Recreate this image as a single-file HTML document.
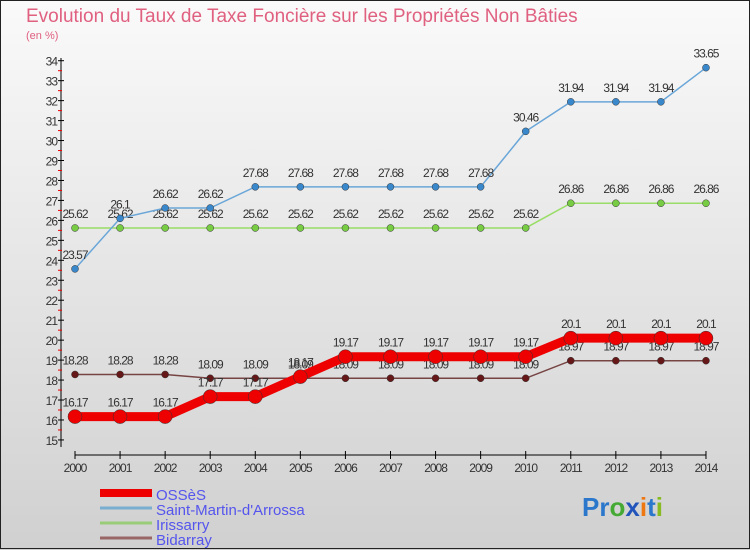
<!DOCTYPE html>
<html><head><meta charset="utf-8"><style>
body{margin:0}
#c{width:750px;height:550px;position:relative;overflow:hidden;background:linear-gradient(#fafafa,#d0d0d0);font-family:"Liberation Sans",sans-serif}
</style></head><body>
<div id="c">
<svg id="s" width="750" height="550" xmlns="http://www.w3.org/2000/svg">
<rect x="0.5" y="0.5" width="749" height="548" fill="none" stroke="#222" stroke-width="1"/>
<text x="26" y="22" font-size="19" fill="#e06080">Evolution du Taux de Taxe Foncière sur les Propriétés Non Bâties</text>
<text x="26" y="39" font-size="11" fill="#e06080">(en %)</text>
<g id="axes"></g><g id="series"></g>
<g>
<rect x="100" y="489" width="52" height="8" fill="#ee0000"/>
<text x="156" y="500" font-size="15" fill="#5555ee">OSSèS</text>
<line x1="100" y1="508" x2="152" y2="508" stroke="#7aaed0" stroke-width="3"/>
<text x="156" y="515" font-size="15" fill="#5555ee">Saint-Martin-d'Arrossa</text>
<line x1="100" y1="523" x2="152" y2="523" stroke="#99cc77" stroke-width="3"/>
<text x="156" y="530" font-size="15" fill="#5555ee">Irissarry</text>
<line x1="100" y1="538" x2="152" y2="538" stroke="#996666" stroke-width="3"/>
<text x="156" y="545" font-size="15" fill="#5555ee">Bidarray</text>
</g>
<text x="582" y="516" font-size="26" font-weight="bold"><tspan fill="#2a77cc">Pr</tspan><tspan fill="#44aa33">o</tspan><tspan fill="#2255bb">x</tspan><tspan fill="#ee7711">i</tspan><tspan fill="#2a77cc">t</tspan><tspan fill="#88bb22">i</tspan></text>
</svg></div>
<script>
const years=[2000,2001,2002,2003,2004,2005,2006,2007,2008,2009,2010,2011,2012,2013,2014];
const yTicks=[15,16,17,18,19,20,21,22,23,24,25,26,27,28,29,30,31,32,33,34];
const ossesVals=[16.17,16.17,16.17,17.17,17.17,18.17,19.17,19.17,19.17,19.17,19.17,20.1,20.1,20.1,20.1];
const stMartinVals=[23.57,26.1,26.62,26.62,27.68,27.68,27.68,27.68,27.68,27.68,30.46,31.94,31.94,31.94,33.65];
const irissarryVals=[25.62,25.62,25.62,25.62,25.62,25.62,25.62,25.62,25.62,25.62,25.62,26.86,26.86,26.86,26.86];
const bidarrayVals=[18.28,18.28,18.28,18.09,18.09,18.09,18.09,18.09,18.09,18.09,18.09,18.97,18.97,18.97,18.97];
const NS="http://www.w3.org/2000/svg";
const X=i=>75+i*45.07, Y=v=>60.7+(34-v)*19.96;
function mk(p,t,a){const e=document.createElementNS(NS,t);for(const k in a)e.setAttribute(k,a[k]);p.appendChild(e);return e;}
const ax=document.getElementById('axes');
const yl=mk(ax,'line',{x1:61,y1:58,x2:61,y2:447,stroke:'#000'});


yTicks.forEach(v=>{
 mk(ax,'line',{x1:58,y1:Y(v),x2:64,y2:Y(v),stroke:'#000'});
 if(v<34)mk(ax,'line',{x1:58,y1:Y(v+0.5),x2:62,y2:Y(v+0.5),stroke:'#e00'});
 const t=mk(ax,'text',{x:57,y:Y(v)+5,'font-size':12,'text-anchor':'end',fill:'#333','letter-spacing':'-1'});
 t.textContent=v;
 
 
});
const xl=mk(ax,'line',{x1:X(0),y1:455,x2:X(14),y2:455,stroke:'#000'});


years.forEach((y,i)=>{
 mk(ax,'line',{x1:X(i),y1:451,x2:X(i),y2:459,stroke:'#000'});
 const t=mk(ax,'text',{x:X(i),y:472,'font-size':12,'text-anchor':'middle',fill:'#333','letter-spacing':'-1'});
 t.textContent=y;
 
 
});
const sg=document.getElementById('series');
function series(name,vals,color,w,r,dot){
 const g=mk(sg,'g',{});
 
 
 const pl=mk(g,'polyline',{points:vals.map((v,i)=>X(i)+','+Y(v)).join(' '),fill:'none',stroke:color,'stroke-width':w});
 
 
 vals.forEach((v,i)=>{
  const c=mk(g,'circle',{cx:X(i),cy:Y(v),r:r,fill:dot,stroke:'#333','stroke-width':0.5});
  
  
  const t=mk(g,'text',{x:X(i),y:Y(v)-10,'font-size':12,'text-anchor':'middle',fill:'#333','letter-spacing':'-1'});
  t.textContent=v;
  
  
 });
}
series('irissarry',irissarryVals,'#99dd66',1.5,3.5,'#77cc44');
series('saint-martin',stMartinVals,'#6aa6d8',1.5,3.5,'#3a88cc');
series('bidarray',bidarrayVals,'#774444',1.5,3.5,'#661818');
series('osses',ossesVals,'#ee0000',9,7,'#ee0000');
</script>
</body></html>
